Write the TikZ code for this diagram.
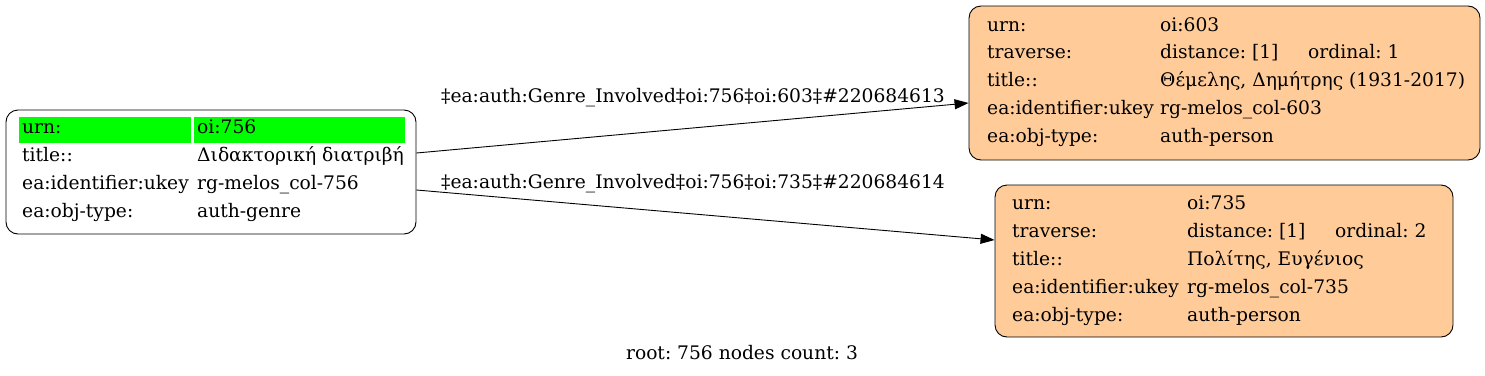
\documentclass[tikz,border=0pt]{standalone}
\usepackage{fontspec}
\setmainfont{DejaVu Serif}
\usetikzlibrary{arrows.meta}
\frenchspacing
\definecolor{peach}{HTML}{FFCC99}
\definecolor{urngreen}{HTML}{00FF00}
\tikzset{
  recbox/.style={draw, rounded corners=12pt, line width=0.9pt, inner sep=0pt},
  cell/.style={anchor=west, inner sep=0pt, font=\fontsize{18.67}{22}\selectfont, text height=13pt, text depth=4pt},
  rel/.style={-{Triangle[length=14pt,width=10pt]}, line width=0.9pt},
  rellabel/.style={anchor=west, inner sep=0pt, font=\fontsize{18.67}{22}\selectfont}
}
\begin{document}
\begin{tikzpicture}[x=1pt,y=-1pt]
        \useasboundingbox (0,0) rectangle (1485,375);
        % root record
        \node[recbox, fill=white, minimum width=410pt, minimum height=124pt] (n756) at (211,172) {};
        \fill[urngreen] (19,117) rectangle (191,143);
        \fill[urngreen] (194,117) rectangle (405,143);
        \node[cell] (n756k1) at (22,129) {urn:};
        \node[cell] (n756v1) at (197,129) {oi:756};
        \node[cell] (n756k2) at (22,157) {title::};
        \node[cell] (n756v2) at (197,157) {Διδακτορική διατριβή};
        \node[cell] (n756k3) at (22,185) {ea:identifier:ukey};
        \node[cell] (n756v3) at (197,185) {rg-melos\_col-756};
        \node[cell] (n756k4) at (22,213) {ea:obj-type:};
        \node[cell] (n756v4) at (197,213) {auth-genre};
        % first person
        \node[recbox, fill=peach, minimum width=511pt, minimum height=154pt] (n603) at (1224.5,83) {};
        \node[cell] (n603k1) at (987,27) {urn:};
        \node[cell] (n603v1) at (1160,27) {oi:603};
        \node[cell] (n603k2) at (987,54) {traverse:};
        \node[cell] (n603v2) at (1160,54) {distance: [1]};
        \node[cell] (n603o) at (1308,54) {ordinal: 1};
        \node[cell] (n603k3) at (987,82) {title::};
        \node[cell] (n603v3) at (1160,82) {Θέμελης, Δημήτρης (1931-2017)};
        \node[cell] (n603k4) at (987,110) {ea:identifier:ukey};
        \node[cell] (n603v4) at (1160,110) {rg-melos\_col-603};
        \node[cell] (n603k5) at (987,138) {ea:obj-type:};
        \node[cell] (n603v5) at (1160,138) {auth-person};
        % second person
        \node[recbox, fill=peach, minimum width=458pt, minimum height=152pt] (n735) at (1224,261) {};
        \node[cell] (n735k1) at (1012,205) {urn:};
        \node[cell] (n735v1) at (1187,205) {oi:735};
        \node[cell] (n735k2) at (1012,233) {traverse:};
        \node[cell] (n735v2) at (1187,233) {distance: [1]};
        \node[cell] (n735o) at (1335,233) {ordinal: 2};
        \node[cell] (n735k3) at (1012,261) {title::};
        \node[cell] (n735v3) at (1187,261) {Πολίτης, Ευγένιος};
        \node[cell] (n735k4) at (1012,289) {ea:identifier:ukey};
        \node[cell] (n735v4) at (1187,289) {rg-melos\_col-735};
        \node[cell] (n735k5) at (1012,317) {ea:obj-type:};
        \node[cell] (n735v5) at (1187,317) {auth-person};
        % relations
        \draw[rel] ([yshift=19pt]n756.east) to ([yshift=-20pt]n603.west);
        \draw[rel] ([yshift=-18pt]n756.east) to ([yshift=21pt]n735.west);
        \node[rellabel] (l603) at (441,98) {‡ea:auth:Genre\_Involved‡oi:756‡oi:603‡\#220684613};
        \node[rellabel] (l735) at (441,184) {‡ea:auth:Genre\_Involved‡oi:756‡oi:735‡\#220684614};
        \node[font=\fontsize{18.67}{22}\selectfont] (foot) at (742,353) {root: 756 nodes count: 3};
    \end{tikzpicture}
\end{document}
